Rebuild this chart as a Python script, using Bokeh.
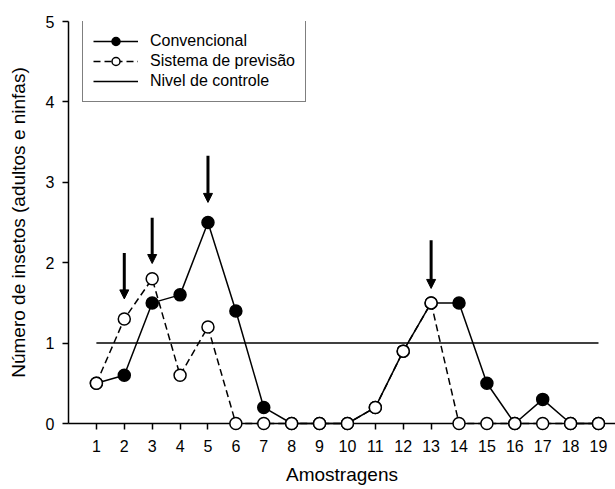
from bokeh.plotting import figure
from bokeh.models import (Range1d, FixedTicker, Legend, LegendItem, Arrow,
                          NormalHead, ColumnDataSource)
from bokeh.embed import file_html
from bokeh.resources import INLINE

# ---- data ----
amostragens = list(range(1, 20))
convencional = [0.5, 0.6, 1.5, 1.6, 2.5, 1.4, 0.2, 0, 0, 0, 0.2, 0.9, 1.5, 1.5, 0.5, 0, 0.3, 0, 0]
sistema = [0.5, 1.3, 1.8, 0.6, 1.2, 0, 0, 0, 0, 0, 0.2, 0.9, 1.5, 0, 0, 0, 0, 0, 0]
controle_x = [1, 19]
controle_y = [1, 1]
seta_x = [2, 3, 5, 13]
seta_inicio = [2.12, 2.56, 3.33, 2.28]
seta_fim = [1.55, 1.99, 2.75, 1.68]
x_ticks = list(range(1, 20))
y_ticks = [0, 1, 2, 3, 4, 5]

FONT = "Liberation Sans"

p = figure(width=615, height=489, output_backend="svg", toolbar_location=None,
           x_range=Range1d(0, 19.61), y_range=Range1d(0, 5),
           min_border_left=68, min_border_right=0, min_border_top=21,
           min_border_bottom=66)
p.outline_line_color = None
p.grid.visible = False
p.background_fill_color = "white"
p.border_fill_color = "white"

for ax in (p.xaxis[0], p.yaxis[0]):
    ax.axis_line_color = "black"
    ax.axis_line_width = 1.5
    ax.major_tick_line_color = "black"
    ax.major_tick_line_width = 1.5
    ax.major_tick_out = 6
    ax.major_tick_in = 0
    ax.minor_tick_line_color = None
    ax.major_label_text_font = FONT
    ax.major_label_text_font_size = "16px"
    ax.major_label_text_color = "black"
    ax.axis_label_text_font = FONT
    ax.axis_label_text_font_size = "19px"
    ax.axis_label_text_font_style = "normal"
    ax.axis_label_text_color = "black"

p.xaxis.ticker = FixedTicker(ticks=x_ticks)
p.yaxis.ticker = FixedTicker(ticks=y_ticks)
p.xaxis.axis_label = "Amostragens"
p.yaxis.axis_label = "Número de insetos (adultos e ninfas)"
p.xaxis.major_label_standoff = 10
p.xaxis.axis_label_standoff = 9
p.yaxis.major_label_standoff = 8
p.yaxis.axis_label_standoff = 14

# ---- lines ----
r_conv_line = p.line(amostragens, convencional, line_color="black", line_width=1.5, level="overlay")
r_sist_line = p.line(amostragens, sistema, line_color="black", line_width=1.5,
                     line_dash="7 4", level="overlay")
r_ctrl = p.line(controle_x, controle_y, line_color="black", line_width=1.5, level="overlay")

# ---- markers ----
r_conv_pts = p.scatter(amostragens, convencional, marker="circle", size=12,
                       fill_color="black", line_color="black", line_width=1.5, level="overlay")
r_sist_pts = p.scatter(amostragens, sistema, marker="circle", size=12,
                       fill_color="white", line_color="black", line_width=1.5, level="overlay")

# ---- arrows ----
arr_src = ColumnDataSource(dict(x=seta_x, y0=seta_inicio, y1=seta_fim))
p.add_layout(Arrow(end=NormalHead(size=9, fill_color="black", line_color="black", line_width=1),
                   x_start="x", y_start="y0", x_end="x", y_end="y1", source=arr_src,
                   line_color="black", line_width=3))

# ---- legend ----
legend = Legend(items=[
    LegendItem(label="Convencional", renderers=[r_conv_line, r_conv_pts]),
    LegendItem(label="Sistema de previsão", renderers=[r_sist_line, r_sist_pts]),
    LegendItem(label="Nivel de controle", renderers=[r_ctrl]),
], location=(14, 402 - 1 - 80))
legend.border_line_color = "black"
legend.border_line_width = 1.5
legend.background_fill_color = "white"
legend.background_fill_alpha = 1
legend.label_text_font = FONT
legend.label_text_font_size = "16px"
legend.label_text_color = "black"
legend.glyph_width = 45
legend.glyph_height = 20
legend.label_height = 20
legend.spacing = 0
legend.padding = 10
legend.label_standoff = 12
legend.margin = 0
p.add_layout(legend)

open("out.html", "w").write(file_html(p, INLINE))
